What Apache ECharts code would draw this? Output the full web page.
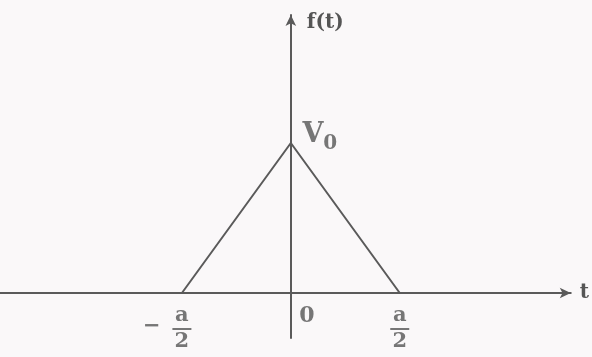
<!DOCTYPE html>
<html><head><meta charset="utf-8">
<script src="https://cdn.jsdelivr.net/npm/echarts@6/dist/echarts.min.js"></script>
<style>html,body{margin:0;padding:0;background:#faf8f9;}#c{width:592px;height:357px;}</style>
</head><body><div id="c"></div>
<script>
// Triangle pulse f(t): values in units of a/2 (t) and V0 (f)
const tValues = [-1, 0, 1];
const fValues = [0, 1, 0];
const tickValues = [-1, 0, 1];
const tickLabels = ['−a/2', '0', 'a/2'];
const peakLabel = 'V0';
const yName = 'f(t)';
const xName = 't';

const ink = '#5a5a5a';
const textInk = '#555555';
const serif = '"DejaVu Serif", "Liberation Serif", serif';
const fw = 'bold';

const fracRich = {
  n: { fontFamily: serif, fontWeight: fw, fontSize: 21, color: textInk, lineHeight: 22, align: 'center' },
  bar: { width: 19, height: 2, backgroundColor: textInk, lineHeight: 4, align: 'center' },
  d: { fontFamily: serif, fontWeight: fw, fontSize: 21, color: textInk, lineHeight: 22, align: 'center' }
};

function tickLabelItem(v, txt) {
  if (txt === '0') {
    return { value: [v, 0], label: { show: true, formatter: '0', position: 'inside', offset: [16, 23],
      fontFamily: serif, fontWeight: fw, fontSize: 22, color: textInk } };
  }
  const neg = txt.startsWith('−');
  const body = neg ? txt.slice(1) : txt;
  const [num, den] = body.split('/');
  return { value: [v, 0], label: { show: true, position: 'inside', offset: [0, 36],
    formatter: '{n|' + num + '}\n{bar|}\n{d|' + den + '}', rich: fracRich } };
}
const labelData = [];
tickValues.forEach((v, i) => {
  labelData.push(tickLabelItem(v, tickLabels[i]));
  if (tickLabels[i].startsWith('−')) {
    labelData.push({ value: [v, 0], label: { show: true, position: 'inside', offset: [-30, 34],
      formatter: '−', fontFamily: serif, fontWeight: fw, fontSize: 21, color: textInk } });
  }
});
const peakIdx = fValues.indexOf(Math.max(...fValues));
labelData.push({ value: [tValues[peakIdx], fValues[peakIdx]], label: { show: true, position: 'inside', offset: [29, -8],
  formatter: '{v|' + peakLabel[0] + '}{s|' + peakLabel.slice(1) + '}',
  rich: { v: { fontFamily: serif, fontWeight: fw, fontSize: 27, color: textInk, verticalAlign: 'bottom' },
          s: { fontFamily: serif, fontWeight: fw, fontSize: 20, color: textInk, verticalAlign: 'bottom', padding: [0,0,-5,0] } } } });

const chart = echarts.init(document.getElementById('c'), null, { renderer: 'canvas' });
chart.setOption({
  backgroundColor: '#faf8f9',
  animation: false,
  grid: { left: 0, right: 19, top: 15, bottom: 19, containLabel: false },
  xAxis: {
    type: 'value', min: -2.67, max: 2.57,
    name: xName, nameLocation: 'end', nameGap: 9,
    nameTextStyle: { fontFamily: serif, fontWeight: fw, fontSize: 20, color: textInk, align: 'left', verticalAlign: 'middle', padding: [6, 0, 0, 0] },
    axisLine: { onZero: true, symbol: ['none', 'arrow'], symbolSize: [8, 11], lineStyle: { color: ink, width: 2 } },
    axisTick: { show: false }, axisLabel: { show: false }, splitLine: { show: false }
  },
  yAxis: {
    type: 'value', min: -0.3, max: 1.853,
    name: yName, nameLocation: 'end', nameGap: -8,
    nameTextStyle: { fontFamily: serif, fontWeight: fw, fontSize: 20, color: textInk, align: 'left', verticalAlign: 'middle', padding: [0, 0, 0, 16] },
    axisLine: { onZero: true, symbol: ['none', 'arrow'], symbolSize: [8, 11], lineStyle: { color: ink, width: 2 } },
    axisTick: { show: false }, axisLabel: { show: false }, splitLine: { show: false }
  },
  series: [
    { type: 'line', data: tValues.map((t, i) => [t, fValues[i]]), showSymbol: false,
      lineStyle: { color: ink, width: 2 }, silent: true },
    { type: 'scatter', data: labelData, symbolSize: 0, silent: true }
  ]
});
</script></body></html>
